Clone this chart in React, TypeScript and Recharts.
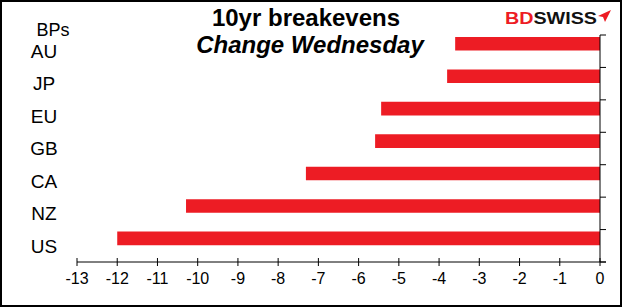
import React from 'react';
import { BarChart, Bar, XAxis, YAxis } from 'recharts';

const countries = ['AU', 'JP', 'EU', 'GB', 'CA', 'NZ', 'US'];
const changeBps = [-3.6, -3.8, -5.44, -5.59, -7.31, -10.29, -12.0];
const xTicks = [-13, -12, -11, -10, -9, -8, -7, -6, -5, -4, -3, -2, -1, 0];

const data = countries.map((c, i) => ({ country: c, change: changeBps[i], blank: null as number | null }));

const FONT = 'Arial, "Liberation Sans", sans-serif';
const RED = '#ED1C24';
const MARGIN_TOP = 35;
const X_AXIS_H = 45;
const CHART_H = 307;

const XTick = (props: any) => {
  const { x, y, payload, index, visibleTicksCount } = props;
  const axisY = y - 4;
  const isLast = index === (visibleTicksCount || xTicks.length) - 1;
  return (
    <g>
      <line x1={x} x2={x} y1={axisY - 4} y2={axisY} stroke="#000" strokeWidth={1} />
      {isLast ? <line x1={x} x2={x + 6} y1={axisY} y2={axisY} stroke="#000" strokeWidth={1} /> : null}
      <text x={x} y={axisY + 22} textAnchor="middle" fontSize={16} fontFamily={FONT} fill="#000">
        {payload.value}
      </text>
    </g>
  );
};

const CatTick = (props: any) => {
  const { x, y, payload } = props;
  return (
    <text x={x - 25} y={y} dy="0.36em" textAnchor="middle" fontSize={19} fontFamily={FONT} fill="#000">
      {payload.value}
    </text>
  );
};

const EdgeTick = (props: any) => {
  const { x, y, index, visibleTicksCount } = props;
  const count = visibleTicksCount || countries.length;
  const h = typeof props.height === 'number' && props.height > 0 ? props.height : CHART_H - MARGIN_TOP - X_AXIS_H;
  const half = h / count / 2;
  return (
    <g>
      <line x1={x} x2={x + 6} y1={y - half} y2={y - half} stroke="#000" strokeWidth={1} />
      {index === count - 1 ? (
        <line x1={x} x2={x + 6} y1={y + half} y2={y + half} stroke="#000" strokeWidth={1} />
      ) : null}
    </g>
  );
};

export default function App() {
  return (
    <div style={{ position: 'absolute', left: 0, top: 0, width: 622, height: 307, background: '#fff' }}>
      <BarChart
        width={622}
        height={CHART_H}
        data={data}
        layout="vertical"
        margin={{ top: MARGIN_TOP, right: 0, bottom: 0, left: 0 }}
        barGap={2}
        barSize={13.6}
      >
        <XAxis
          type="number"
          domain={[-13, 0]}
          ticks={xTicks}
          height={X_AXIS_H}
          axisLine={{ stroke: '#000' }}
          tickLine={{ stroke: '#000' }}
          tickSize={4}
          tickMargin={0}
          tick={<XTick />}
          interval={0}
        />
        <YAxis
          yAxisId="cat"
          type="category"
          dataKey="country"
          width={77}
          axisLine={false}
          tickLine={false}
          tick={<CatTick />}
          interval={0}
        />
        <YAxis
          yAxisId="edge"
          orientation="right"
          type="category"
          dataKey="country"
          width={22}
          axisLine={{ stroke: '#000' }}
          tickLine={false}
          tickSize={0}
          tickMargin={0}
          tick={<EdgeTick />}
          interval={0}
        />
        <Bar yAxisId="cat" dataKey="change" fill={RED} isAnimationActive={false} />
        <Bar yAxisId="cat" dataKey="blank" fill="none" isAnimationActive={false} />
      </BarChart>
      <svg width={622} height={307} style={{ position: 'absolute', left: 0, top: 0, pointerEvents: 'none' }}>
        <text x={306} y={26} textAnchor="middle" fontSize={24} fontWeight="bold" fontFamily={FONT} fill="#000">
          10yr breakevens
        </text>
        <text x={310} y={53} textAnchor="middle" fontSize={24} fontWeight="bold" fontStyle="italic" fontFamily={FONT} fill="#000">
          Change Wednesday
        </text>
        <text x={53} y={36} textAnchor="middle" fontSize={18} fontFamily={FONT} fill="#000">
          BPs
        </text>
        <text x={505} y={24} fontSize={16} fontWeight="bold" fontFamily={FONT} textLength={92} lengthAdjust="spacingAndGlyphs">
          <tspan fill={RED}>BD</tspan>
          <tspan fill="#111">SWISS</tspan>
        </text>
        <polygon points="611,10 598,16 603,17 605,22" fill={RED} />
        <rect x={1} y={1} width={620} height={305} fill="none" stroke="#000" strokeWidth={2} />
      </svg>
    </div>
  );
}
